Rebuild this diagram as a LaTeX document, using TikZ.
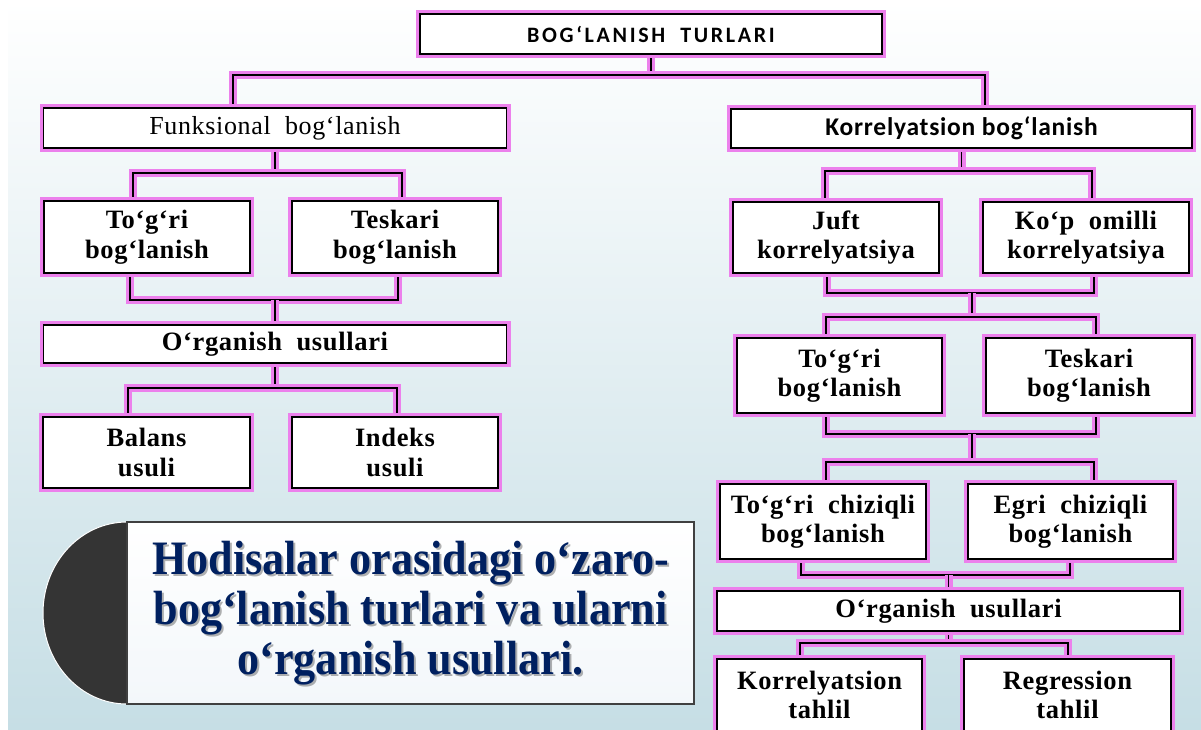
\documentclass[tikz,border=0pt]{standalone}
\usepackage{fontspec}
\setmainfont{Liberation Serif}
\newfontfamily\boxfont[LetterSpace=2.5]{Liberation Serif}
\newfontfamily\headfont[LetterSpace=12]{Carlito}
\newfontfamily\korfont[LetterSpace=3]{Carlito}
\newfontfamily\capfont[FakeStretch=0.92]{Liberation Serif}

\definecolor{glowpink}{RGB}{236,128,236}
\definecolor{bgblue}{RGB}{198,222,229}
\definecolor{capnavy}{RGB}{0,32,96}
\definecolor{capdark}{RGB}{52,52,52}
\definecolor{capedge}{RGB}{64,64,64}

\pgfdeclarelayer{bg}
\pgfdeclarelayer{links}
\pgfsetlayers{bg,links,main}

\begin{document}
\begin{tikzpicture}[
    x=1pt, y=-1pt,
    glow/.style={preaction={draw=glowpink, line width=8pt}},
    box/.style={rectangle, draw=black, line width=1.6pt, fill=white, glow, inner sep=0pt, align=center,
        font=\boxfont\bfseries\fontsize{26.5}{29.5}\selectfont},
    pair/.style={box, minimum width=206pt, minimum height=72pt},
    bar/.style={box, minimum width=463pt, minimum height=40pt},
    link/.style={draw=black, line width=1.6pt, glow}
]
\useasboundingbox (0,0) rectangle (1201,729);

% background
\begin{pgfonlayer}{bg}
\fill[white] (0,0) rectangle (1201,729);
\shade[top color=white, bottom color=bgblue] (8,0) rectangle (1201,729);
\end{pgfonlayer}

% left branch
\node[bar, minimum width=462pt, font=\headfont\bfseries\fontsize{22}{24}\selectfont] (title) at (651,34) {BOG‘LANISH~ TURLARI};
\node[bar, font=\boxfont\fontsize{26}{28}\selectfont] (fun) at (275,128) {Funksional~ bog‘lanish};
\node[pair] (tog1) at (147,237) {To‘g‘ri\\bog‘lanish};
\node[pair] (tesk1) at (395,237) {Teskari\\bog‘lanish};
\node[bar, minimum height=38pt] (org1) at (275,344) {O‘rganish~ usullari};
\node[pair, minimum width=207pt, minimum height=71pt] (bal) at (146.5,452.5) {Balans\\usuli};
\node[pair, minimum height=71pt] (ind) at (395,452.5) {Indeks\\usuli};

% right branch
\node[bar, minimum width=461pt, minimum height=39pt, font=\korfont\bfseries\fontsize{25.5}{27}\selectfont] (kor) at (961.5,128.5) {Korrelyatsion bog‘lanish};
\node[pair, minimum height=71pt] (juft) at (836,237.5) {Juft\\korrelyatsiya};
\node[pair, minimum height=71pt] (kop) at (1086,237.5) {Ko‘p~ omilli\\korrelyatsiya};
\node[pair, minimum width=205pt, minimum height=75pt] (tog2) at (839.5,375.5) {To‘g‘ri\\bog‘lanish};
\node[pair, minimum height=75pt] (tesk2) at (1089,375.5) {Teskari\\bog‘lanish};
\node[pair, minimum height=75pt] (togc) at (823,521.5) {To‘g‘ri~ chiziqli\\bog‘lanish};
\node[pair, minimum width=205pt, minimum height=75pt] (egri) at (1070.5,521.5) {Egri~ chiziqli\\bog‘lanish};
\node[bar] (org2) at (948.5,611) {O‘rganish~ usullari};
\node[pair, minimum width=205pt] (kt) at (819.5,695) {Korrelyatsion\\tahlil};
\node[pair, minimum width=207pt] (rt) at (1067.5,695) {Regression\\tahlil};

% caption
\fill[capdark, draw=white, line width=1pt] (127,522) arc[start angle=270, end angle=90, x radius=84, y radius=91] -- cycle;
\node[rectangle, draw=capedge, line width=2pt, top color=white, bottom color={rgb,255:red,243;green,247;blue,250},
    minimum width=567pt, minimum height=182pt] (capbox) at (410.5,613) {};
\node[align=center, text=black, opacity=0.3, font=\capfont\bfseries\fontsize{48}{50}\selectfont] (capshade) at (412.5,615) {Hodisalar orasidagi o‘zaro-\\bog‘lanish turlari va ularni\\o‘rganish usullari.};
\node[align=center, text=capnavy, font=\capfont\bfseries\fontsize{48}{50}\selectfont] (caption) at (410.5,613) {Hodisalar orasidagi o‘zaro-\\bog‘lanish turlari va ularni\\o‘rganish usullari.};

% connectors
\begin{pgfonlayer}{links}
\coordinate (t0l) at (233,75);
\coordinate (t0r) at (985,75);
\draw[link] (title.south) -- (title.south |- t0l);
\draw[link] (fun.north -| t0l) |- (t0r) -- (kor.north -| t0r);

\coordinate (f1l) at (133,173);
\coordinate (f1r) at (402,173);
\draw[link] (fun.south) -- (fun.south |- f1l);
\draw[link] (tog1.north -| f1l) |- (f1r) -- (tesk1.north -| f1r);

\coordinate (f2l) at (130,300);
\coordinate (f2r) at (398,300);
\draw[link] (tog1.south -| f2l) |- (f2r) -- (tesk1.south -| f2r);
\draw[link] (org1.north) -- (org1.north |- f2l);

\coordinate (f3l) at (128,388);
\coordinate (f3r) at (397,388);
\draw[link] (org1.south) -- (org1.south |- f3l);
\draw[link] (bal.north -| f3l) |- (f3r) -- (ind.north -| f3r);

\coordinate (k1l) at (825,171);
\coordinate (k1r) at (1092,171);
\draw[link] (kor.south) -- (kor.south |- k1l);
\draw[link] (juft.north -| k1l) |- (k1r) -- (kop.north -| k1r);

\coordinate (k2l) at (827,293);
\coordinate (k2r) at (1094,293);
\coordinate (k2m) at (972,293);
\coordinate (k3l) at (826,317);
\coordinate (k3r) at (1096,317);
\coordinate (k3m) at (972,317);
\draw[link] (juft.south -| k2l) |- (k2r) -- (kop.south -| k2r);
\draw[link] (k2m) -- (k3m);
\draw[link] (tog2.north -| k3l) |- (k3r) -- (tesk2.north -| k3r);

\coordinate (k4l) at (826,434);
\coordinate (k4r) at (1096,434);
\coordinate (k4m) at (972,434);
\coordinate (k5l) at (826,462);
\coordinate (k5r) at (1094,462);
\coordinate (k5m) at (972,462);
\draw[link] (tog2.south -| k4l) |- (k4r) -- (tesk2.south -| k4r);
\draw[link] (k4m) -- (k5m);
\draw[link] (togc.north -| k5l) |- (k5r) -- (egri.north -| k5r);

\coordinate (k6l) at (801,575);
\coordinate (k6r) at (1070,575);
\draw[link] (togc.south -| k6l) |- (k6r) -- (egri.south -| k6r);
\draw[link] (org2.north) -- (org2.north |- k6l);

\coordinate (k7l) at (800,643);
\coordinate (k7r) at (1068,643);
\draw[link] (org2.south) -- (org2.south |- k7l);
\draw[link] (kt.north -| k7l) |- (k7r) -- (rt.north -| k7r);
\end{pgfonlayer}

\end{tikzpicture}
\end{document}
